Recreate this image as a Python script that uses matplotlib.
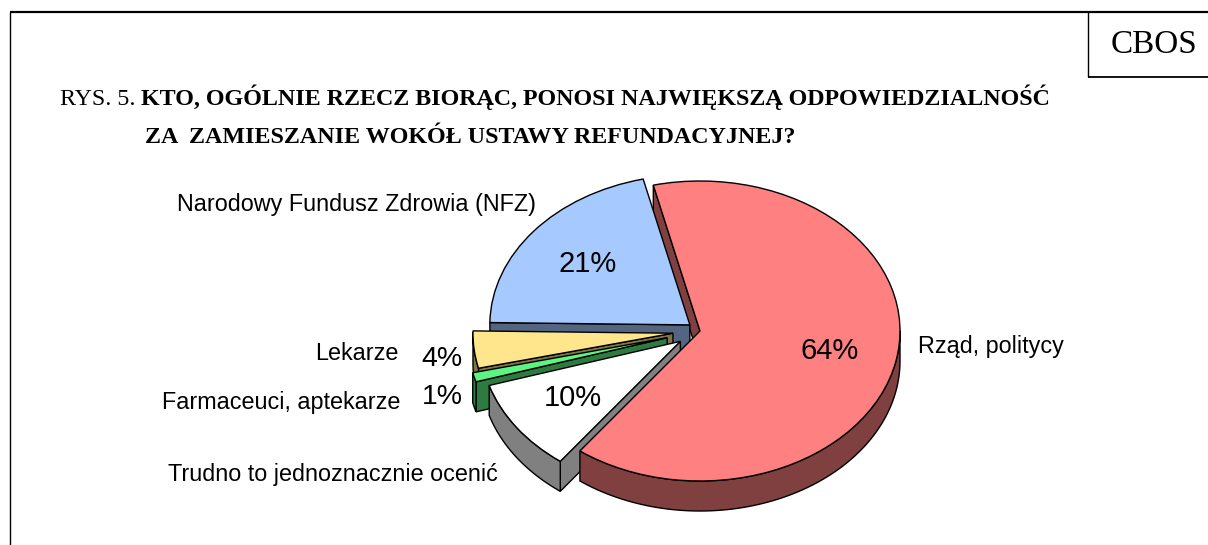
import numpy as np
import matplotlib
matplotlib.use("Agg")
import matplotlib.pyplot as plt
from matplotlib.patches import Polygon

# Data
categories = ["Rząd, politycy", "Trudno to jednoznacznie ocenić", "Farmaceuci, aptekarze", "Lekarze", "Narodowy Fundusz Zdrowia (NFZ)"]
values = [64, 10, 1, 4, 21]
pct_labels = ["64%", "10%", "1%", "4%", "21%"]
title_prefix = "RYS. 5. "
title_line1 = "KTO, OGÓLNIE RZECZ BIORĄC, PONOSI NAJWIĘKSZĄ ODPOWIEDZIALNOŚĆ"
title_line2 = "ZA  ZAMIESZANIE WOKÓŁ USTAWY REFUNDACYJNEJ?"
badge = "CBOS"

# Style
explode = [0, 0.12, 0.17, 0.136, 0.065]
top_colors = ["#FF8080", "#FFFFFF", "#5AF582", "#FFE68C", "#A6CAFF"]
side_colors = ["#804040", "#808080", "#2E7B41", "#807346", "#536580"]
zorders = {4: 3, 3: 4, 2: 5, 1: 6, 0: 7}
W, H = 1208, 545
cx, cy, a, b, depth = 700, 331, 200, 150, 30

fig = plt.figure(figsize=(W / 100, H / 100), dpi=100)
ax = fig.add_axes([0, 0, 1, 1])
wedges, _ = ax.pie(values, explode=explode, colors=top_colors, startangle=103.5,
                   counterclock=False, radius=1,
                   wedgeprops=dict(edgecolor="black", linewidth=1.0))
ax.set_aspect("auto")
ax.set_xlim(-cx / a, (W - cx) / a)
ax.set_ylim(-(H - cy) / b, cy / b)
ax.axis("off")
d = depth / b


def extrude(xs, ys):
    xs, ys = np.asarray(xs), np.asarray(ys)
    return np.column_stack([np.r_[xs, xs[::-1]], np.r_[ys, ys[::-1] - d]])


for i, w in enumerate(wedges):
    z = zorders[i] * 10
    x0, y0 = w.center
    # radial wall at the counter-clockwise end of the wedge
    t2 = np.deg2rad(w.theta2)
    wall = extrude([x0, x0 + np.cos(t2)], [y0, y0 + np.sin(t2)])
    # the red wall sits behind all the other slices, its top in front of them
    ax.add_patch(Polygon(wall, closed=True, fc=side_colors[i], ec="black", lw=1.0,
                         zorder=(5 if i == 0 else z)))
    # outer rim: the front half of the arc only
    t = np.deg2rad(np.linspace(w.theta1, w.theta2, 400))
    t = t[np.sin(t) < 0.005]
    if t.size:
        rim = extrude(x0 + np.cos(t), y0 + np.sin(t))
        ax.add_patch(Polygon(rim, closed=True, fc=side_colors[i], ec="black", lw=1.0,
                             zorder=z + 1))
    w.set_zorder(z + 2)


def px(x, y, s, **kw):
    fig.text(x / W, 1 - y / H, s, **kw)


sans = dict(family="Liberation Sans", color="black", va="center", ha="left")
serif = dict(family="Liberation Serif", color="black", va="baseline", ha="left")

px(177, 205, categories[4], fontsize=16.8, **sans)
px(315, 353, categories[3], fontsize=16.8, **sans)
px(162, 402, categories[2], fontsize=16.8, **sans)
px(168, 475, categories[1], fontsize=16.8, **sans)
px(918, 346, categories[0], fontsize=16.8, **sans)

px(558, 264, pct_labels[4], fontsize=21, **sans)
px(800, 351, pct_labels[0], fontsize=21, **sans)
px(544, 398, pct_labels[1], fontsize=21, **sans)
px(421, 359, pct_labels[3], fontsize=20.5, **sans)
px(422, 397, pct_labels[2], fontsize=20.5, **sans)

px(60, 105, title_prefix, fontsize=17.3, **serif)
px(141, 105, title_line1, fontsize=17.3, fontweight="bold", **serif)
px(145, 143, title_line2, fontsize=17.3, fontweight="bold", **serif)
px(1111, 53, badge, fontsize=23.9, **serif)

# Frame lines
frame = dict(color="black", transform=fig.transFigure, solid_capstyle="butt")
def line(x0, y0, x1, y1, lw):
    fig.add_artist(plt.Line2D([x0 / W, x1 / W], [1 - y0 / H, 1 - y1 / H], lw=lw, **frame))
line(10, 12, W, 12, 1.6)
line(10, 12, 10, H, 1.0)
line(1088, 12, 1088, 77, 1.0)
line(1088, 77, W, 77, 1.3)

fig.savefig("out.png", dpi=100, facecolor="white")
